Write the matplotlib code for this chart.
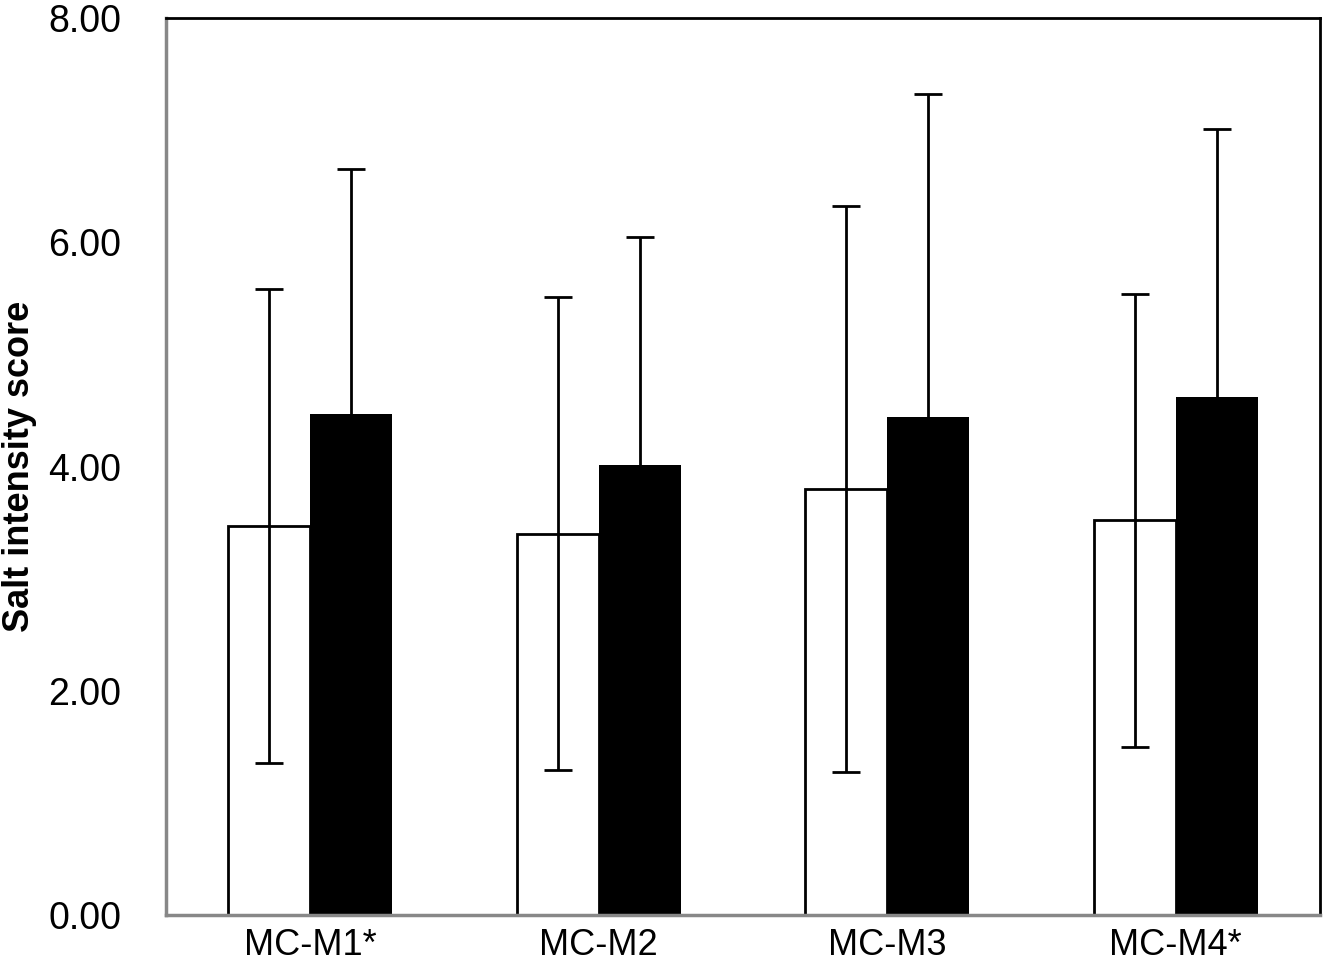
import matplotlib
matplotlib.use("Agg")
import matplotlib.pyplot as plt
import numpy as np

categories = ["MC-M1*", "MC-M2", "MC-M3", "MC-M4*"]
white_means = [3.47, 3.40, 3.80, 3.52]
white_sd = [2.11, 2.11, 2.52, 2.02]
black_means = [4.47, 4.01, 4.44, 4.62]
black_sd = [2.18, 2.04, 2.88, 2.39]
yticks = [0, 2, 4, 6, 8]

plt.rcParams['font.family'] = ['Liberation Sans', 'DejaVu Sans']

fig = plt.figure(figsize=(13.23, 9.72), dpi=100)
ax = fig.add_axes([0.1255, 0.0586, 0.8722, 0.9229])

x = np.arange(len(categories))
w = 0.285
ax.bar(x - w / 2, white_means, w, color='white', edgecolor='black', linewidth=2,
       yerr=white_sd, error_kw=dict(ecolor='black', elinewidth=2, capsize=10, capthick=2), zorder=2)
ax.bar(x + w / 2, black_means, w, color='black', edgecolor='black', linewidth=0,
       yerr=black_sd, error_kw=dict(ecolor='black', elinewidth=2, capsize=10, capthick=2), zorder=2)

ax.set_xlim(-0.5, 3.5)
ax.set_ylim(0, 8)
ax.set_yticks(yticks)
ax.set_yticklabels([f"{v:.2f}" for v in yticks], fontsize=27)
ax.set_xticks(x)
ax.set_xticklabels(categories, fontsize=26)
ax.tick_params(axis='both', length=0)
ax.tick_params(axis='y', pad=32)
ax.tick_params(axis='x', pad=9)
ax.set_ylabel("Salt intensity score", fontsize=26, fontweight='bold')
ax.yaxis.set_label_coords(-0.112, 0.5)

for s in ['left', 'bottom']:
    ax.spines[s].set_color('#888888')
    ax.spines[s].set_linewidth(2.5)
for s in ['top', 'right']:
    ax.spines[s].set_color('black')
    ax.spines[s].set_linewidth(2)

fig.savefig("out.png", dpi=100)
